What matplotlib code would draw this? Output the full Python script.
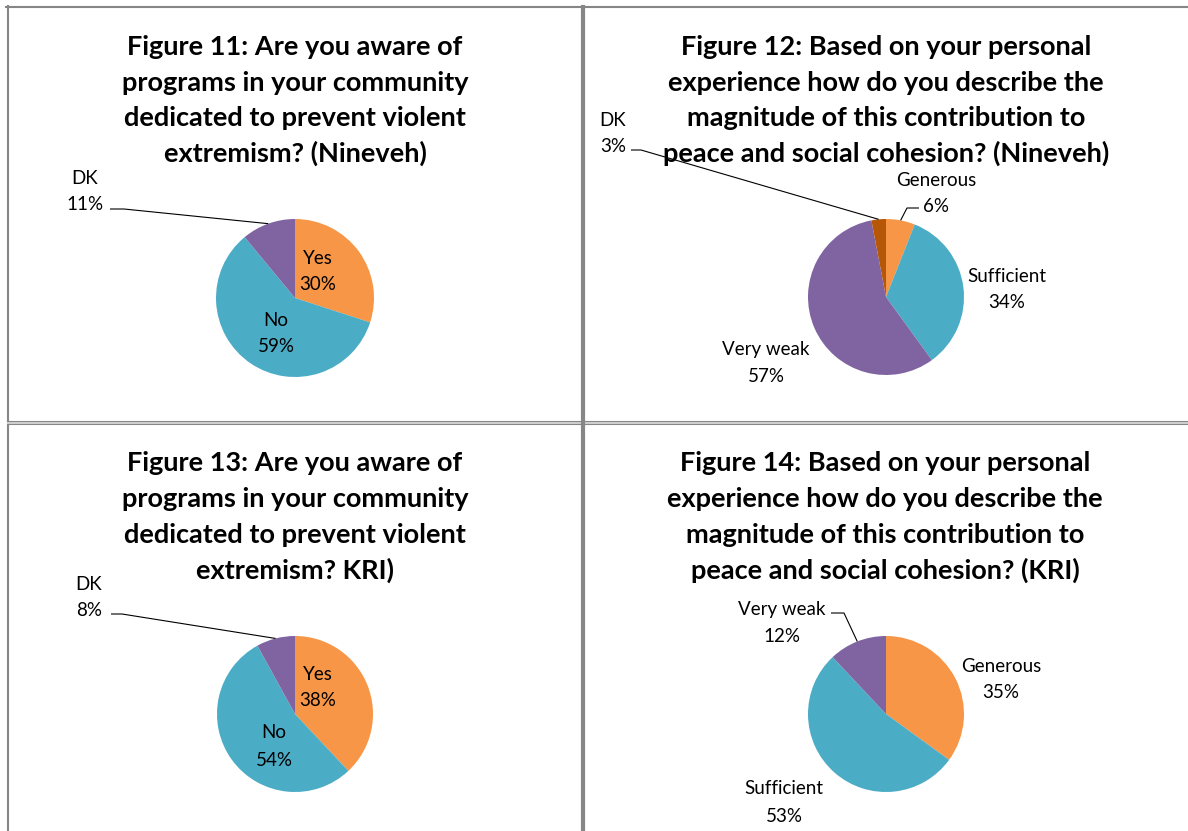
import numpy as np
import matplotlib.pyplot as plt

W, H = 1188, 831

# Awareness of programs (Figures 11 and 13)
aware_labels = ["Yes", "No", "DK"]
aware_nineveh = [30, 59, 11]
aware_kri = [38, 54, 8]

# Magnitude of contribution (Figures 12 and 14)
magnitude_nineveh_labels = ["Generous", "Sufficient", "Very weak", "DK"]
magnitude_nineveh = [6, 34, 57, 3]
magnitude_kri_labels = ["Generous", "Sufficient", "Very weak"]
magnitude_kri = [35, 53, 12]

titles = [
    ["Figure 11: Are you aware of", "programs in your community",
     "dedicated to prevent violent", "extremism? (Nineveh)"],
    ["Figure 12: Based on your personal", "experience how do you describe the",
     "magnitude of this contribution to", "peace and social cohesion? (Nineveh)"],
    ["Figure 13: Are you aware of", "programs in your community",
     "dedicated to prevent violent", "extremism? KRI)"],
    ["Figure 14: Based on your personal", "experience how do you describe the",
     "magnitude of this contribution to", "peace and social cohesion? (KRI)"],
]

ORANGE = "#F79646"
BLUE = "#4BACC6"
PURPLE = "#8064A2"
RUST = "#B65708"
GRID = "#868686"

FONT = "Lato"
TITLE_SIZE = 19.5
LABEL_SIZE = 13.5


def Y(y):
    # top-down pixel row to axes data units
    return H - y


fig = plt.figure(figsize=(W / 100, H / 100), dpi=100)
ax = fig.add_axes([0, 0, 1, 1])

# each panel: title centre x, title line rows, pie centre, radius,
# and per-slice label placement (x, y of first line, leader stub x0, x1, y or None)
panels = [
    dict(values=aware_nineveh, labels=aware_labels, colors=[ORANGE, BLUE, PURPLE],
         tx=295, ty=[47, 83, 118, 153], c=(295, 298), r=79,
         place=[(318, 258, None), (276, 320, None), (85, 178, (110, 124, 209))]),
    dict(values=magnitude_nineveh, labels=magnitude_nineveh_labels,
         colors=[ORANGE, BLUE, PURPLE, RUST],
         tx=886, ty=[47, 83, 118, 153], c=(886, 297), r=78,
         place=[(936, 180, (919, 907, 208)), (1007, 276, None), (766, 350, None),
                (613, 120, (631, 641, 150))]),
    dict(values=aware_kri, labels=aware_labels, colors=[ORANGE, BLUE, PURPLE],
         tx=295, ty=[463, 499, 535, 570], c=(295, 714), r=78,
         place=[(318, 674, None), (274, 733, None), (89, 584, (111, 122, 614))]),
    dict(values=magnitude_kri, labels=magnitude_kri_labels,
         colors=[ORANGE, BLUE, PURPLE],
         tx=885, ty=[463, 499, 535, 570], c=(886, 714), r=78,
         place=[(1001, 666, None), (784, 789, None), (782, 610, (831, 844, 613))]),
]

LINE_GAP = 27

for p, title in zip(panels, titles):
    for row, line in zip(p["ty"], title):
        ax.text(p["tx"], Y(row), line, ha="center", va="center",
                fontsize=TITLE_SIZE, fontweight="bold", family=FONT, zorder=2)

    cx, cy = p["c"]
    wedges, _ = ax.pie(p["values"], colors=p["colors"], startangle=90,
                       counterclock=False, radius=p["r"], center=(cx, Y(cy)),
                       wedgeprops=dict(linewidth=0))

    for w, name, val, (lx, ly, stub) in zip(wedges, p["labels"], p["values"], p["place"]):
        ax.text(lx, Y(ly), name, ha="center", va="center",
                fontsize=LABEL_SIZE, family=FONT, zorder=4)
        ax.text(lx, Y(ly + LINE_GAP), f"{val}%", ha="center", va="center",
                fontsize=LABEL_SIZE, family=FONT, zorder=4)
        if stub is not None:
            # leader line: short horizontal stub, then to the slice's mid-arc
            mid = np.deg2rad((w.theta1 + w.theta2) / 2)
            ex = cx + p["r"] * np.cos(mid)
            ey = Y(cy) + p["r"] * np.sin(mid)
            x0, x1, sy = stub
            ax.plot([x0, x1, ex], [Y(sy), Y(sy), ey], color="black",
                    linewidth=0.8, zorder=5, solid_capstyle="butt")

# table cell borders
ax.plot([6, W], [Y(7), Y(7)], color=GRID, linewidth=1.5, zorder=6)
ax.plot([7.5, 7.5], [Y(6), 0], color=GRID, linewidth=1.5, zorder=6)
ax.fill_between([7, W], Y(420.5), Y(424.5), color="#D2D2D2", linewidth=0, zorder=6)
ax.plot([7, W], [Y(420.8), Y(420.8)], color=GRID, linewidth=0.8, zorder=6)
ax.plot([7, W], [Y(424), Y(424)], color=GRID, linewidth=0.8, zorder=6)
ax.plot([583, 583], [Y(7), 0], color=GRID, linewidth=3, zorder=7)

ax.set_xlim(0, W)
ax.set_ylim(0, H)
ax.set_aspect("equal")
ax.axis("off")

fig.savefig("out.png", dpi=100, facecolor="white")
